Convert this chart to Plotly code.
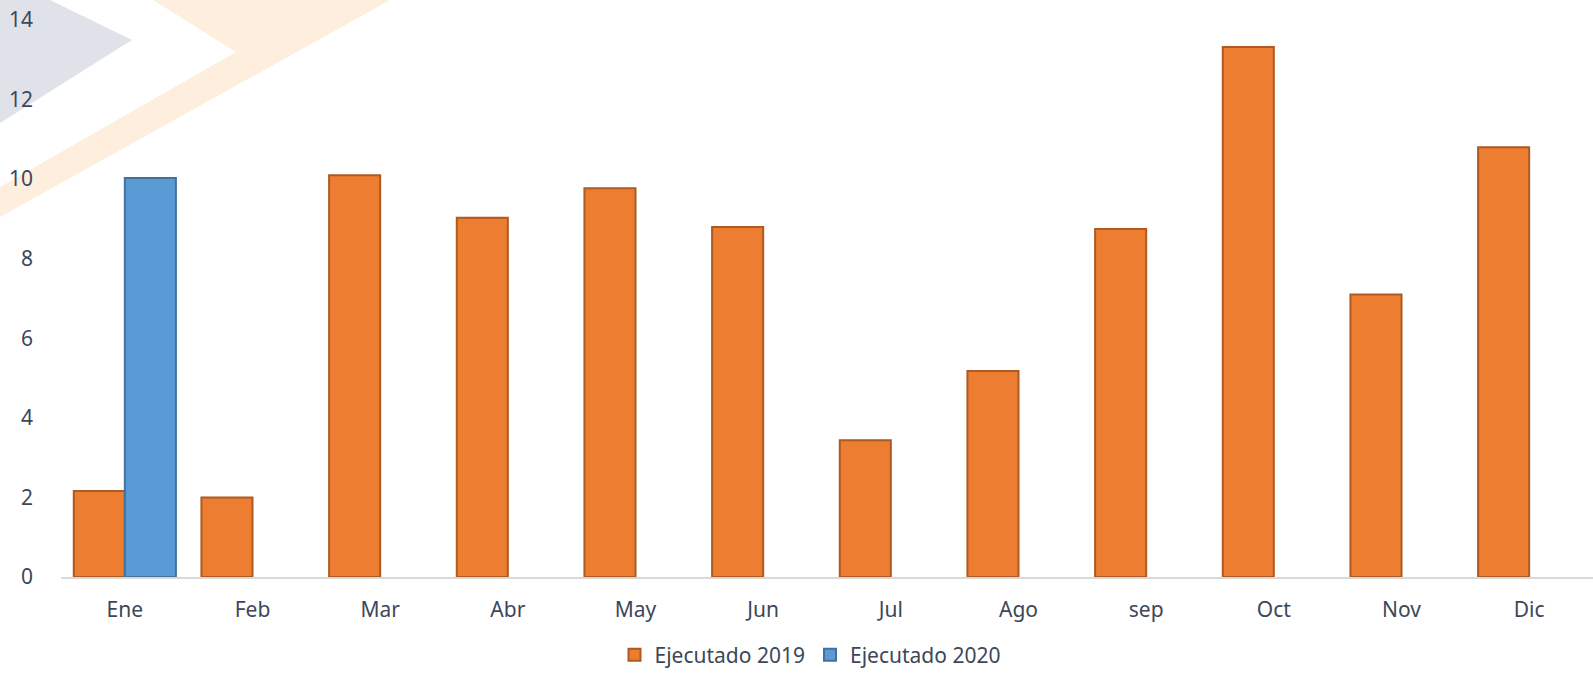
import plotly.graph_objects as go

months = ["Ene", "Feb", "Mar", "Abr", "May", "Jun", "Jul", "Ago", "sep", "Oct", "Nov", "Dic"]
ejecutado_2019 = [2.16, 2.0, 10.1, 9.03, 9.77, 8.8, 3.44, 5.18, 8.75, 13.32, 7.1, 10.8]
ejecutado_2020 = [10.03, None, None, None, None, None, None, None, None, None, None, None]

TEXT = "#3d4759"
FONT = "Noto Sans"
FS = 21

# plot area in pixels (page is 1593x674)
X0, X1, Y0, Y1 = 61, 1593, 20, 577


def px_to_paper(x, y):
    return (x - X0) / (X1 - X0), (Y1 - y) / (Y1 - Y0)


def poly_path(points):
    pts = [px_to_paper(x, y) for x, y in points]
    return "M " + " L ".join(f"{a:.4f},{b:.4f}" for a, b in pts) + " Z"


fig = go.Figure()
fig.add_trace(go.Bar(
    x=months, y=ejecutado_2019, name="Ejecutado 2019",
    marker=dict(color="#ED7D31", line=dict(color="#AE5A21", width=2)),
))
fig.add_trace(go.Bar(
    x=months, y=ejecutado_2020, name="Ejecutado 2020",
    marker=dict(color="#5B9BD5", line=dict(color="#41719C", width=2)),
))

# faint watermark in the top-left corner
fig.add_shape(type="path", xref="paper", yref="paper", layer="below",
              path=poly_path([(0, 0), (50, 0), (132, 40), (0, 123)]),
              fillcolor="#dfe2e8", line=dict(width=0))
fig.add_shape(type="path", xref="paper", yref="paper", layer="below",
              path=poly_path([(153, 0), (390, 0), (0, 217), (0, 187), (236, 52)]),
              fillcolor="#fdeedd", line=dict(width=0))

fig.update_layout(
    width=1593, height=674,
    margin=dict(l=X0, r=1593 - X1, t=Y0, b=674 - Y1),
    paper_bgcolor="white", plot_bgcolor="rgba(0,0,0,0)",
    barmode="group", bargap=0.2, bargroupgap=0,
    font=dict(family=FONT, size=FS, color=TEXT),
    showlegend=True,
    legend=dict(orientation="h", xref="paper", x=(810 - X0) / (X1 - X0), xanchor="center",
                yref="container", y=(674 - 655) / 674, yanchor="middle",
                font=dict(size=FS, color=TEXT), bgcolor="rgba(0,0,0,0)"),
)
fig.update_xaxes(showline=True, linecolor="#d9d9d9", linewidth=1.5, showgrid=False,
                 ticks="", ticklabelstandoff=13, automargin=False,
                 tickfont=dict(size=FS, color=TEXT))
fig.update_yaxes(range=[0, 14], dtick=2, showgrid=False, zeroline=False, showline=False,
                 ticks="", ticklabelstandoff=27, automargin=False,
                 tickfont=dict(size=FS, color=TEXT))

# the page body has a default 8px margin; drop it so the figure fills the window
fig.write_html("out.html", config={"displayModeBar": False},
               post_script="document.body.style.margin='0';")
